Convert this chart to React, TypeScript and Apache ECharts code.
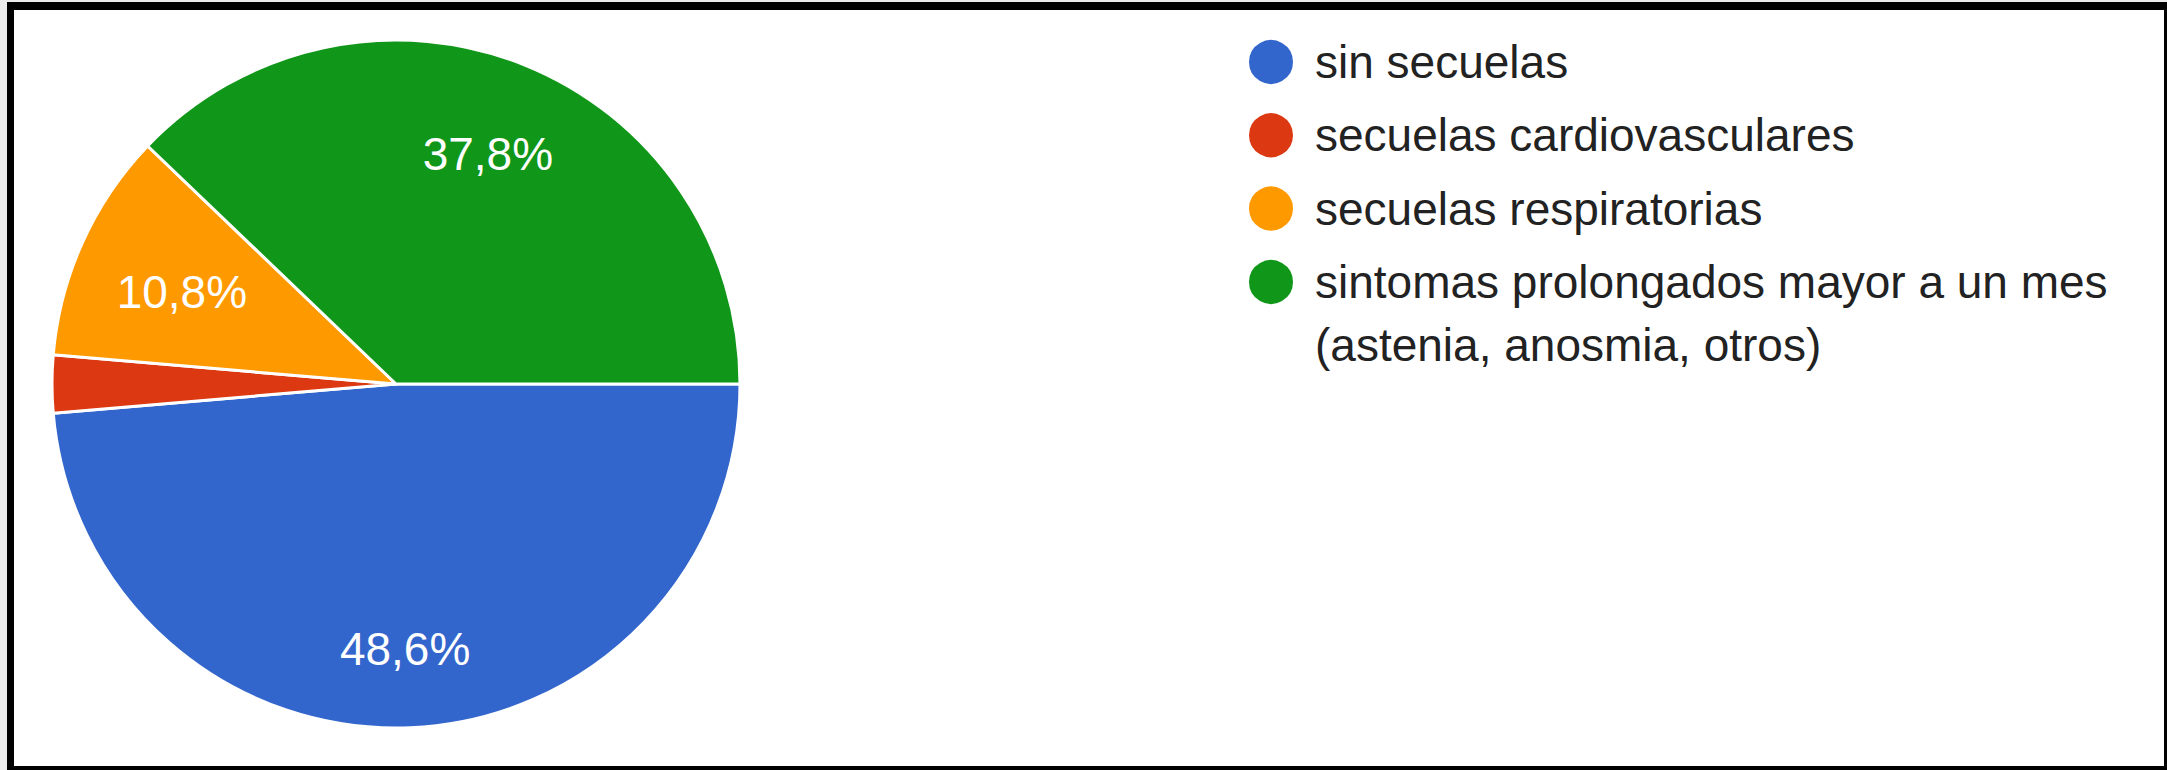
import React, { useEffect, useRef } from "react";
import * as echarts from "echarts";

const categories = [
  "sin secuelas",
  "secuelas cardiovasculares",
  "secuelas respiratorias",
  "sintomas prolongados mayor a un mes (astenia, anosmia, otros)",
];
const legendLines = [
  ["sin secuelas"],
  ["secuelas cardiovasculares"],
  ["secuelas respiratorias"],
  ["sintomas prolongados mayor a un mes", "(astenia, anosmia, otros)"],
];
const counts = [18, 1, 4, 14];
const colors = ["#3366CC", "#DC3912", "#FF9900", "#109618"];
// fraction of the radius at which each slice's label sits (null = no label)
const labelFractions = [0.752, null, 0.668, 0.723];

const FONT = "'Liberation Sans', Arial, sans-serif";
const CENTER = [396, 384];
const R = 344;

export default function App() {
  const ref = useRef<HTMLDivElement>(null);

  useEffect(() => {
    if (!ref.current) return;
    const chart = echarts.init(ref.current, undefined, { renderer: "svg" });
    const total = counts.reduce((a, b) => a + b, 0);
    const fmt = (v: number) => ((v / total) * 100).toFixed(1).replace(".", ",") + "%";

    const baseData = categories.map((name, i) => ({
      name,
      value: counts[i],
      itemStyle: { color: colors[i] },
    }));

    const labelSeries: any[] = [];
    labelFractions.forEach((f, idx) => {
      if (f == null) return;
      labelSeries.push({
        type: "pie",
        center: CENTER,
        radius: [(2 * f - 1) * R, R],
        startAngle: 0,
        clockwise: true,
        silent: true,
        avoidLabelOverlap: false,
        z: 5,
        itemStyle: { color: "transparent", borderWidth: 0 },
        labelLine: { show: false },
        emphasis: { disabled: true },
        data: categories.map((name, i) => ({
          name,
          value: counts[i],
          itemStyle: { color: "transparent" },
          label: {
            show: i === idx,
            position: "inside",
            formatter: (p: any) => fmt(p.value),
            color: "#ffffff",
            fontSize: 46,
            fontFamily: FONT,
            offset: [-2, 4],
          },
        })),
      });
    });

    const legendText = {
      fontSize: 46,
      fontFamily: FONT,
      color: "#222222",
      lineHeight: 63,
      padding: [0, 0, 0, 16],
    };
    const legendFormatter = (name: string) => {
      const i = categories.indexOf(name);
      const lines = legendLines[i];
      // multi-line entries: a leading empty line keeps the first line beside the marker
      return lines.length > 1 ? "\n" + lines.join("\n") : lines[0];
    };

    chart.setOption({
      animation: false,
      color: colors,
      legend: [
        {
          data: categories.slice(0, 3),
          orient: "vertical",
          left: 1247,
          top: 30.5,
          padding: 0,
          itemWidth: 46,
          itemHeight: 46,
          itemGap: 10.3,
          icon: "circle",
          selectedMode: false,
          formatter: legendFormatter,
          textStyle: legendText,
        },
        {
          data: categories.slice(3),
          orient: "vertical",
          left: 1247,
          top: 187.5,
          padding: 0,
          itemWidth: 46,
          itemHeight: 46,
          icon: "circle",
          selectedMode: false,
          formatter: legendFormatter,
          textStyle: legendText,
        },
      ],
      series: [
        {
          type: "pie",
          center: CENTER,
          radius: R,
          startAngle: 0,
          clockwise: true,
          silent: true,
          label: { show: false },
          labelLine: { show: false },
          emphasis: { disabled: true },
          itemStyle: { borderColor: "#ffffff", borderWidth: 3 },
          data: baseData,
        },
        ...labelSeries,
      ],
    });
    return () => chart.dispose();
  }, []);

  return (
    <div
      style={{
        position: "fixed",
        left: 0,
        top: 0,
        width: 2167,
        height: 770,
        background: "#ececec",
        overflow: "hidden",
      }}
    >
      <div
        style={{
          position: "absolute",
          left: 7,
          top: 2,
          width: 2160,
          height: 768,
          boxSizing: "border-box",
          borderStyle: "solid",
          borderColor: "#000",
          borderLeftWidth: 7,
          borderTopWidth: 8,
          borderRightWidth: 3,
          borderBottomWidth: 4,
          background: "#ffffff",
        }}
      />
      <div
        ref={ref}
        style={{ position: "absolute", left: 0, top: 0, width: 2167, height: 770 }}
      />
    </div>
  );
}
